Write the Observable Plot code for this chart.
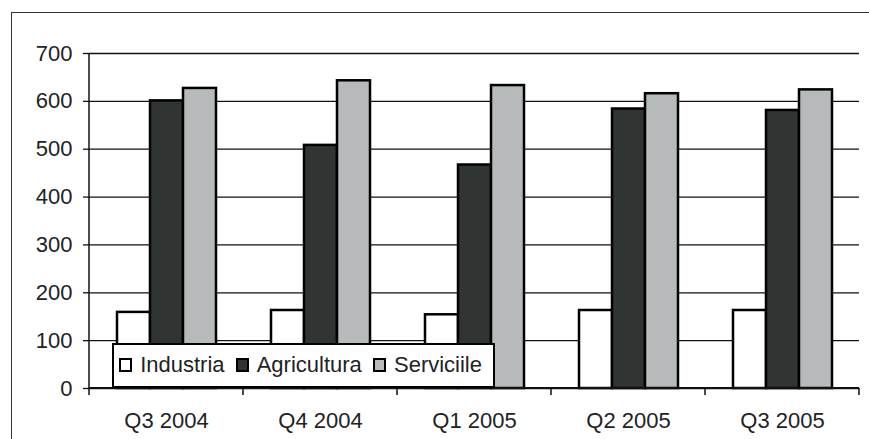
<!DOCTYPE html>
<html>
<head>
<meta charset="utf-8">
<script src="https://cdn.jsdelivr.net/npm/d3@7"></script>
<script src="https://cdn.jsdelivr.net/npm/@observablehq/plot@0.6"></script>
<style>
  html, body { margin: 0; padding: 0; background: #fff; overflow: hidden; }
  #wrap { position: relative; width: 869px; height: 439px; font-family: "Liberation Sans", Arial, sans-serif; }
  #frame { position: absolute; left: 11px; top: 12px; width: 1000px; height: 600px; border-left: 1.5px solid #333; border-top: 1.5px solid #333; }
  #legend { position: absolute; left: 112px; top: 343px; width: 383px; height: 45px; box-sizing: border-box;
            border: 2px solid #000; background: #fff; display: flex; align-items: center; padding-left: 5px; padding-bottom: 2px;
            font-size: 22px; color: #222; }
  .sw { width: 14px; height: 14px; box-sizing: border-box; border: 2px solid #000; margin-right: 8px; }
  .lb { margin-right: 11px; white-space: nowrap; }
  svg { position: absolute; left: 0; top: 0; }
</style>
</head>
<body>
<div id="wrap">
  <div id="frame"></div>
  <div id="chart"></div>
  <div id="legend"></div>
</div>
<script>
const quarters = ["Q3 2004", "Q4 2004", "Q1 2005", "Q2 2005", "Q3 2005"];
const seriesNames = ["Industria", "Agricultura", "Serviciile"];
const industria = [159, 163, 154, 163, 163];
const agricultura = [601, 508, 467, 584, 581];
const serviciile = [627, 643, 633, 616, 624];
const yTicks = [0, 100, 200, 300, 400, 500, 600, 700];
const colors = ["#ffffff", "#303433", "#b7babb"];

const seriesValues = [industria, agricultura, serviciile];
const data = quarters.flatMap((q, i) =>
  seriesNames.map((s, j) => ({ quarter: q, series: s, value: seriesValues[j][i] }))
);

const plot = Plot.plot({
  width: 869,
  height: 439,
  marginLeft: 88,
  marginRight: 9,
  marginTop: 53,
  marginBottom: 51,
  style: { fontFamily: '"Liberation Sans", Arial, sans-serif', fontSize: "22px", color: "#222", background: "transparent", overflow: "visible" },
  fx: { domain: quarters, padding: 0, label: null },
  x: { domain: seriesNames, paddingInner: 0, paddingOuter: 0.77, axis: null },
  y: { domain: [0, 700] },
  color: { domain: seriesNames, range: colors },
  marks: [
    Plot.gridY(yTicks, { stroke: "#111", strokeOpacity: 1, strokeWidth: 1.3 }),
    Plot.axisY(yTicks, { tickSize: 6, tickPadding: 11, label: null, stroke: "#111", strokeWidth: 1.3, fill: "#222" }),
    Plot.barY(data, { fx: "quarter", x: "series", y: "value", fill: "series", stroke: "#000", strokeWidth: 2.5 }),
    Plot.axisFx({ anchor: "bottom", tickSize: 0, tickPadding: 24, label: null, fill: "#222" })
  ]
});

document.getElementById("chart").appendChild(plot);

// axis line and category boundary ticks from the library's scales
const fx = plot.scale("fx");
const y = plot.scale("y");
const svg = d3.select(plot);
const y0 = y.apply(0), yTop = y.apply(700);
const xStart = fx.apply(quarters[0]);
const g = svg.append("g").attr("stroke", "#111").attr("stroke-width", 1.5);
g.append("line").attr("x1", xStart).attr("x2", xStart).attr("y1", yTop).attr("y2", y0 + 7);
g.append("line").attr("x1", xStart).attr("x2", fx.apply(quarters[quarters.length - 1]) + fx.bandwidth).attr("y1", y0).attr("y2", y0).attr("stroke-width", 1.8);
quarters.forEach(q => {
  const xb = fx.apply(q) + fx.bandwidth;
  g.append("line").attr("x1", xb).attr("x2", xb).attr("y1", y0).attr("y2", y0 + 7);
});

// legend
const legend = d3.select("#legend");
seriesNames.forEach((s, j) => {
  legend.append("div").attr("class", "sw").style("background", colors[j]);
  legend.append("div").attr("class", "lb").text(s);
});
</script>
</body>
</html>
